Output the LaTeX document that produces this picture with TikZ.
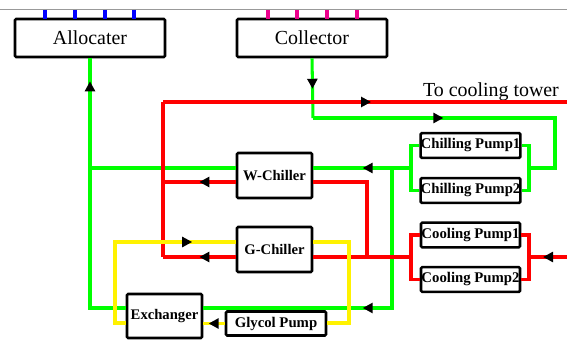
\documentclass[tikz,border=0pt]{standalone}
\usepackage{fontspec}
\setmainfont{Liberation Serif}
\usepackage{tikz}
\usetikzlibrary{positioning, arrows.meta, calc, decorations.markings}

\begin{document}
\begin{tikzpicture}[x=0.03cm, y=-0.03cm,
  unit/.style={draw, line width=2.2pt, rounded corners=1pt, inner sep=1pt},
  bigbox/.style={unit, minimum width=4.5cm, minimum height=1.14cm, font=\fontsize{17}{20}\selectfont},
  chiller/.style={unit, minimum width=2.25cm, minimum height=1.35cm, font=\fontsize{12.5}{14}\selectfont\bfseries},
  pumpbox/.style={unit, minimum width=2.97cm, minimum height=0.74cm, font=\fontsize{12.6}{14}\selectfont\bfseries},
  gline/.style={green, line width=2.6pt},
  rline/.style={red, line width=2.6pt},
  yline/.style={yellow, line width=2.6pt},
  flowtip/.style={postaction={decorate}, decoration={markings,
    mark=at position #1 with {\arrow{Triangle[length=8.5pt, width=8.5pt, color=black]}}}}
]
\useasboundingbox (0,0) rectangle (567,340);

\draw[gray!80, line width=0.8pt] (0,9) -- (567,9);

% units
\node[bigbox] (alloc) at (90,38) {Allocater};
\node[bigbox] (coll) at (312,38) {Collector};
\node[chiller] (wch) at (274.5,175.5) {W-Chiller};
\node[chiller] (gch) at (274.5,249.5) {G-Chiller};
\node[chiller, minimum height=1.32cm] (exch) at (164.5,316) {Exchanger};
\node[pumpbox, minimum width=3cm, minimum height=0.72cm] (gly) at (276,323.5) {Glycol Pump};
\node[pumpbox, inner sep=0pt] (cp1) at (470.5,145.5) {Chilling Pump1};
\node[pumpbox, inner sep=0pt] (cp2) at (470.5,190.5) {Chilling Pump2};
\node[pumpbox, inner sep=0pt] (clp1) at (470.5,235) {Cooling Pump1};
\node[pumpbox, inner sep=0pt] (clp2) at (470.5,279.5) {Cooling Pump2};
\node[anchor=base east, font=\fontsize{17}{20}\selectfont] (tower) at (563,96) {To cooling tower};

\foreach \x in {45,75,105,134} \draw[blue, line width=3.2pt] (\x,10) -- (\x,19);
\foreach \x in {268,297,327,357} \draw[magenta, line width=3.2pt] (\x,10) -- (\x,19);

% chilled water
\coordinate (cA) at (313,118);
\coordinate (cB) at (555,118);
\coordinate (jR) at (529,168);
\coordinate (jL) at (411,168);
\coordinate (jD) at (392,168);
\coordinate (jE) at (392,308);
\coordinate (jF) at (90,308);
\coordinate (jA) at (90,168);
\draw[gline, flowtip=0.51] (coll.south) -- (cA);
\draw[gline, flowtip=0.41] (cA) -- (cB) -- (cB |- jR) -- (jR);
\draw[gline] (cp1.east) -- (cp1.east -| jR) -- (cp2.east -| jR) -- (cp2.east);
\draw[gline] (cp1.west) -- (cp1.west -| jL) -- (cp2.west -| jL) -- (cp2.west);
\draw[gline, flowtip=0.495] (jL) -- (wch.east |- jL);
\draw[gline, flowtip=0.515] (jD) -- (jE) -- (exch.east |- jE);
\draw[gline] (exch.west |- jF) -- (jF) -- (jA);
\draw[gline] (wch.west |- jA) -- (jA);
\draw[gline, flowtip=0.79] (jA) -- (alloc.south);

% cooling water
\coordinate (rT) at (163,102);
\coordinate (rW) at (163,182);
\coordinate (rB) at (163,257);
\coordinate (rJ) at (367,257);
\coordinate (rL) at (411,257);
\coordinate (rR) at (529,257);
\coordinate (rIn) at (567,257);
\coordinate (rOut) at (567,102);
\draw[rline, flowtip=0.5] (wch.west |- rW) -- (rW);
\draw[rline, flowtip=0.5] (gch.west |- rB) -- (rB);
\draw[rline] (rB) -- (rT);
\draw[rline, flowtip=0.515] (rT) -- (rOut);
\draw[rline] (wch.east |- rW) -- (rJ |- rW) -- (rJ);
\draw[rline, flowtip=0.63] (rIn) -- (rR);
\draw[rline] (clp1.east) -- (clp1.east -| rR) -- (clp2.east -| rR) -- (clp2.east);
\draw[rline] (clp1.west) -- (clp1.west -| rL) -- (clp2.west -| rL) -- (clp2.west);
\draw[rline] (rL) -- (gch.east |- rL);

% glycol
\coordinate (yA) at (115,242);
\coordinate (yB) at (115,323);
\coordinate (yC) at (349,242);
\coordinate (yD) at (349,323);
\draw[yline, flowtip=0.795] (exch.west |- yB) -- (yB) -- (yA) -- (gch.west |- yA);
\draw[yline] (gch.east |- yC) -- (yC) -- (yD) -- (gly.east |- yD);
\draw[yline, flowtip=0.75] (gly.west) -- (exch.east |- gly.west);
\end{tikzpicture}
\end{document}
